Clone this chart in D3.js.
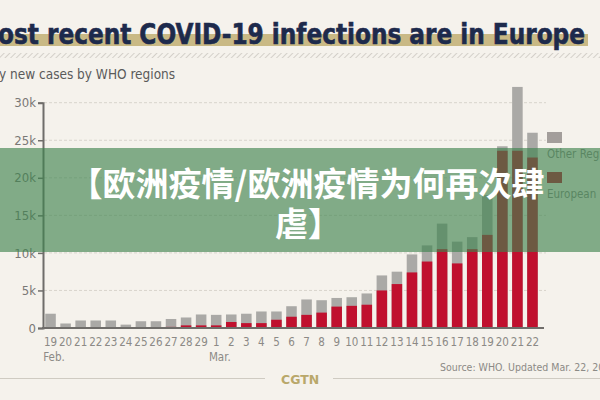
<!DOCTYPE html>
<html>
  <head>
    <meta charset="UTF-8" />
    <title>COVID-19 infections in Europe</title>
    <script src="https://d3js.org/d3.v7.min.js"></script>
    <style>
      body { margin: 0; background: #f5f2ec; }
      svg { display: block; }
    </style>
  </head>
  <body>
    <div id="main"></div>
    <script type="text/javascript">
      const width = 600;
      const height = 400;

      // data (thousands of daily new cases)
      const days = ['19', '20', '21', '22', '23', '24', '25', '26', '27', '28', '29',
        '1', '2', '3', '4', '5', '6', '7', '8', '9', '10', '11', '12', '13', '14',
        '15', '16', '17', '18', '19', '20', '21', '22'];
      const dayKeys = days.map((d, i) => (i < 11 ? 'Feb-' : 'Mar-') + d);
      const totalCases = [1.9, 0.6, 1.0, 1.0, 1.0, 0.45, 0.9, 0.9, 1.2, 1.4, 1.8,
        1.75, 1.8, 1.9, 2.2, 2.2, 2.9, 3.8, 3.7, 4.0, 4.1, 4.6, 7.0, 7.5, 9.8,
        11.0, 13.9, 11.5, 12.1, 17.7, 24.2, 32.1, 26.0];
      const europeCases = [0.0, 0.0, 0.02, 0.05, 0.12, 0.1, 0.1, 0.1, 0.15, 0.35, 0.35,
        0.35, 0.8, 0.65, 0.65, 1.1, 1.5, 1.75, 2.05, 2.85, 2.95, 3.1, 5.0, 5.85, 7.4,
        8.85, 10.5, 8.6, 10.5, 12.4, 23.6, 23.6, 22.7];
      const yTicks = [0, 5, 10, 15, 20, 25, 30];
      const monthLabels = [{ index: 0, text: 'Feb.' }, { index: 11, text: 'Mar.' }];
      const legendItems = [
        { label: 'Other Regions', color: '#a39e9b' },
        { label: 'European Region', color: '#c0102e' }
      ];

      const svg = d3
        .select('div#main')
        .append('svg')
        .attr('width', width)
        .attr('height', height);

      svg.append('rect').attr('width', width).attr('height', height).attr('fill', '#f5f2ec');

      // hatch pattern under title
      const defs = svg.append('defs');
      const pat = defs.append('pattern')
        .attr('id', 'hatch')
        .attr('width', 4)
        .attr('height', 4)
        .attr('patternUnits', 'userSpaceOnUse')
        .attr('patternTransform', 'rotate(45)');
      pat.append('line').attr('x1', 0).attr('y1', 0).attr('x2', 0).attr('y2', 4)
        .attr('stroke', '#c9c5bd').attr('stroke-width', 1.5);

      // title
      svg.append('rect').attr('x', 0).attr('y', 34).attr('width', 588).attr('height', 12)
        .attr('fill', '#c9b985');
      svg.append('text')
        .attr('x', -2)
        .attr('y', 44)
        .attr('textLength', 587)
        .attr('lengthAdjust', 'spacingAndGlyphs')
        .attr('font-family', '"Liberation Sans Narrow", "DejaVu Sans Condensed", sans-serif')
        .attr('font-weight', 'bold')
        .attr('font-size', 29)
        .attr('fill', '#1d2a4c')
        .attr('stroke', '#1d2a4c')
        .attr('stroke-width', 0.6)
        .text('ost recent COVID-19 infections are in Europe');
      svg.append('rect').attr('x', 0).attr('y', 53).attr('width', width).attr('height', 5)
        .attr('fill', 'url(#hatch)');

      svg.append('text')
        .attr('x', -1)
        .attr('y', 79)
        .attr('font-family', '"DejaVu Sans Condensed", sans-serif')
        .attr('font-size', 13.5)
        .attr('fill', '#5a5a5a')
        .text('y new cases by WHO regions');

      // scales
      const x = d3.scaleBand().domain(dayKeys).range([43, 540])
        .paddingInner(0.3).paddingOuter(0.15);
      const y = d3.scaleLinear().domain([0, 30]).range([328, 102.7]);

      // gridlines
      svg.append('g')
        .selectAll('line')
        .data(yTicks.filter(d => d > 0))
        .join('line')
        .attr('x1', 44).attr('x2', 546)
        .attr('y1', d => y(d)).attr('y2', d => y(d))
        .attr('stroke', '#d8d4cc')
        .attr('stroke-dasharray', '3,2');

      // bars
      const bars = svg.append('g');
      bars.selectAll('rect.total')
        .data(totalCases)
        .join('rect')
        .attr('class', 'total')
        .attr('x', (d, i) => x(dayKeys[i]))
        .attr('width', x.bandwidth())
        .attr('y', d => y(d))
        .attr('height', d => y(0) - y(d))
        .attr('fill', '#aaa9a6');
      bars.selectAll('rect.europe')
        .data(europeCases)
        .join('rect')
        .attr('class', 'europe')
        .attr('x', (d, i) => x(dayKeys[i]))
        .attr('width', x.bandwidth())
        .attr('y', d => y(d))
        .attr('height', d => y(0) - y(d))
        .attr('fill', '#c0102e');

      // y axis
      const yAxis = svg.append('g')
        .attr('transform', 'translate(43,0)')
        .call(d3.axisLeft(y).tickValues(yTicks).tickSize(5).tickPadding(2)
          .tickFormat(d => (d === 0 ? '0' : d + 'k')));
      yAxis.select('.domain').attr('stroke', '#6f6d6a').attr('stroke-width', 2);
      yAxis.selectAll('.tick line').attr('stroke', '#6f6d6a').attr('stroke-width', 1.5);
      yAxis.selectAll('.tick text')
        .attr('font-family', '"DejaVu Sans Condensed", sans-serif')
        .attr('font-size', 13)
        .attr('fill', '#7a7875');

      // x axis
      svg.append('line')
        .attr('x1', 42).attr('x2', 544)
        .attr('y1', 328).attr('y2', 328)
        .attr('stroke', '#6f6d6a').attr('stroke-width', 2);
      svg.append('g')
        .selectAll('text')
        .data(days)
        .join('text')
        .attr('x', (d, i) => x(dayKeys[i]) + x.bandwidth() / 2)
        .attr('y', 346)
        .attr('text-anchor', 'middle')
        .attr('font-family', '"DejaVu Sans Condensed", sans-serif')
        .attr('font-size', 11.5)
        .attr('fill', '#8c8a86')
        .text(d => d);
      svg.append('g')
        .selectAll('text')
        .data(monthLabels)
        .join('text')
        .attr('x', d => x(dayKeys[d.index]) - 2)
        .attr('y', 361)
        .attr('font-family', '"DejaVu Sans Condensed", sans-serif')
        .attr('font-size', 11.5)
        .attr('fill', '#8c8a86')
        .text(d => d.text);

      // legend
      const legend = svg.append('g').attr('transform', 'translate(547,132)');
      legend.selectAll('rect')
        .data(legendItems)
        .join('rect')
        .attr('x', 0).attr('y', (d, i) => i * 40)
        .attr('width', 15).attr('height', 11)
        .attr('fill', d => d.color);
      legend.selectAll('text')
        .data(legendItems)
        .join('text')
        .attr('x', 0).attr('y', (d, i) => i * 40 + 26)
        .attr('font-family', '"DejaVu Sans Condensed", sans-serif')
        .attr('font-size', 11.5)
        .attr('fill', '#8c8a86')
        .text(d => d.label);

      // footer
      svg.append('text')
        .attr('x', 440).attr('y', 371)
        .attr('font-family', '"DejaVu Sans Condensed", sans-serif')
        .attr('font-size', 10.5)
        .attr('fill', '#8c8a86')
        .text('Source: WHO. Updated Mar. 22, 2020');
      svg.append('line').attr('x1', 0).attr('x2', 265).attr('y1', 378.5).attr('y2', 378.5)
        .attr('stroke', '#cfcbc2');
      svg.append('line').attr('x1', 333).attr('x2', 600).attr('y1', 378.5).attr('y2', 378.5)
        .attr('stroke', '#cfcbc2');
      svg.append('text')
        .attr('x', 281).attr('y', 384)
        .attr('font-family', '"DejaVu Sans", sans-serif')
        .attr('font-weight', 'bold')
        .attr('font-size', 12.5)
        .attr('fill', '#b9a86a')
        .text('CGTN');

      // green banner overlay
      svg.append('rect')
        .attr('x', 0).attr('y', 148).attr('width', width).attr('height', 104)
        .attr('fill', 'rgb(62,132,78)')
        .attr('fill-opacity', 0.64);
      const banner = svg.append('text')
        .attr('text-anchor', 'middle')
        .attr('font-family', '"Noto Sans CJK SC", sans-serif')
        .attr('font-weight', 'bold')
        .attr('font-size', 33)
        .attr('fill', '#ffffff');
      banner.append('tspan').attr('x', 307).attr('y', 196).text('【欧洲疫情/欧洲疫情为何再次肆');
      banner.append('tspan').attr('x', 308).attr('y', 236).text('虐】');
    </script>
  </body>
</html>
